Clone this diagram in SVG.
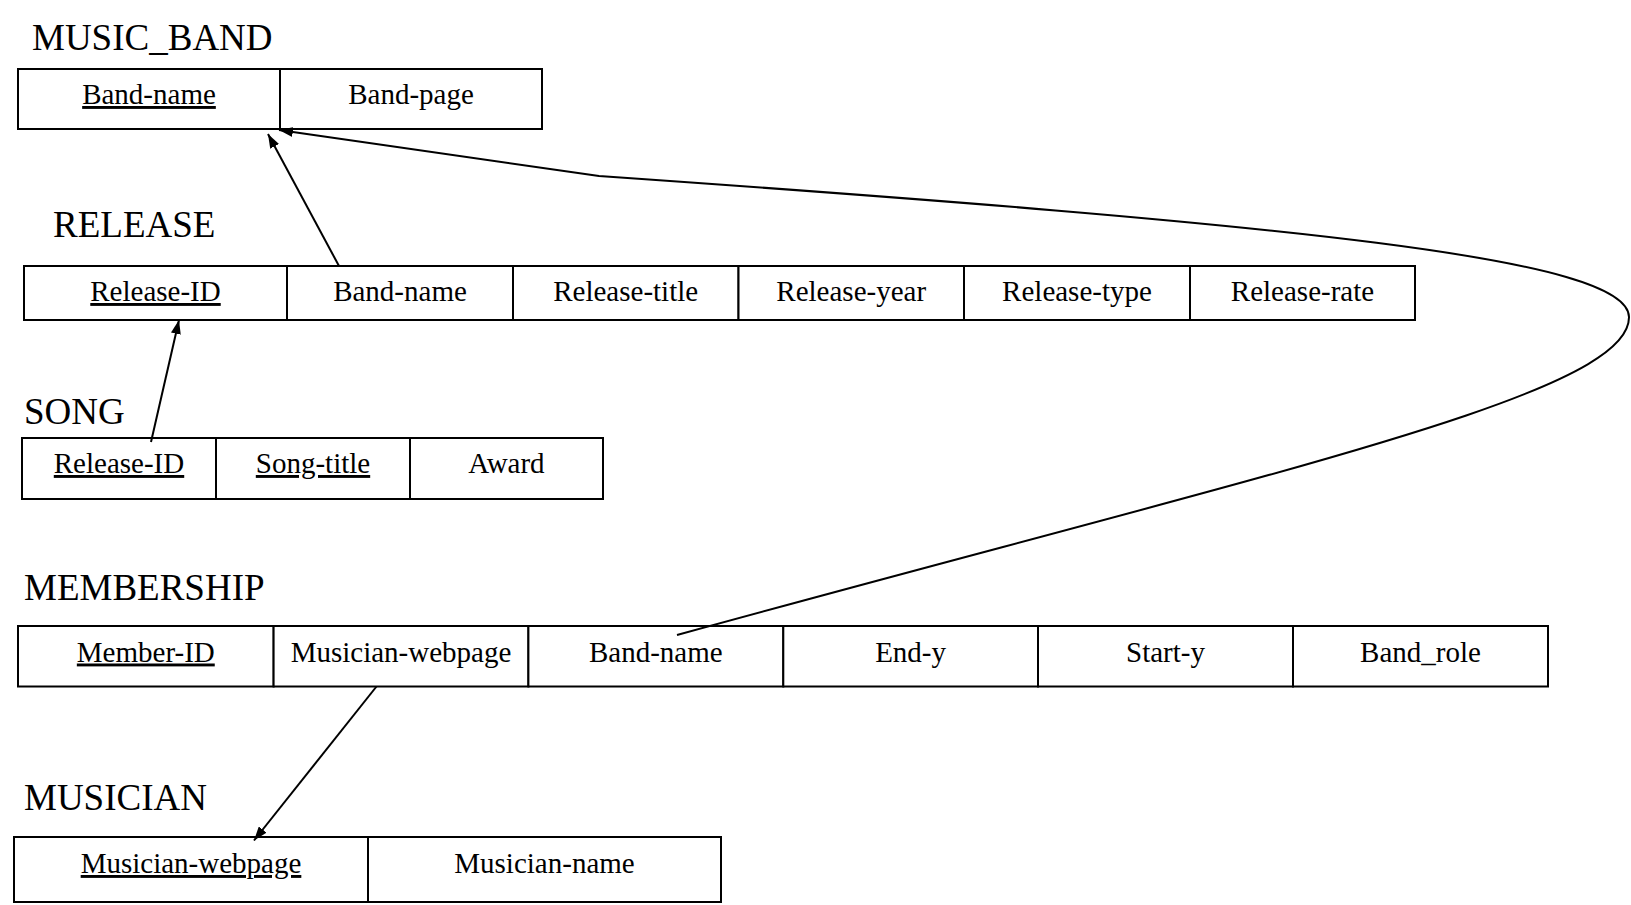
<svg xmlns="http://www.w3.org/2000/svg" width="1631" height="905" viewBox="0 0 1631 905">
<defs>
<style>
.lbl{font-family:"Liberation Serif","Times New Roman",serif;font-size:37px;fill:#000}
.cell{fill:#fff;stroke:#000;stroke-width:2}
.t{font-family:"Liberation Serif","Times New Roman",serif;font-size:29px;fill:#000;text-anchor:middle}
.k{text-decoration:underline}
.c{fill:none;stroke:#000;stroke-width:2}
</style>
<marker id="ah" viewBox="0 0 14 10" refX="14" refY="5" markerWidth="14" markerHeight="10" markerUnits="userSpaceOnUse" orient="auto">
<path d="M0,0 L14,5 L0,10 Z" fill="#000"/>
</marker>
</defs>
<rect width="1631" height="905" fill="#fff"/>
<g id="music_band">
<text class="lbl" x="32" y="50">MUSIC_BAND</text>
<rect class="cell" x="18" y="69" width="262" height="60"/>
<rect class="cell" x="280" y="69" width="262" height="60"/>
<text class="t k" x="149" y="104">Band-name</text>
<text class="t" x="411" y="104">Band-page</text>
</g>
<g id="release">
<text class="lbl" x="53" y="237">RELEASE</text>
<rect class="cell" x="24" y="266" width="263" height="54"/>
<rect class="cell" x="287" y="266" width="226" height="54"/>
<rect class="cell" x="513" y="266" width="225.5" height="54"/>
<rect class="cell" x="738.5" y="266" width="225.5" height="54"/>
<rect class="cell" x="964" y="266" width="226" height="54"/>
<rect class="cell" x="1190" y="266" width="225" height="54"/>
<text class="t k" x="155.5" y="301">Release-ID</text>
<text class="t" x="400" y="301">Band-name</text>
<text class="t" x="625.7" y="301">Release-title</text>
<text class="t" x="851.2" y="301">Release-year</text>
<text class="t" x="1077" y="301">Release-type</text>
<text class="t" x="1302.5" y="301">Release-rate</text>
</g>
<g id="song">
<text class="lbl" x="24" y="424">SONG</text>
<rect class="cell" x="22" y="438" width="194" height="61"/>
<rect class="cell" x="216" y="438" width="194" height="61"/>
<rect class="cell" x="410" y="438" width="193" height="61"/>
<text class="t k" x="119" y="473">Release-ID</text>
<text class="t k" x="313" y="473">Song-title</text>
<text class="t" x="506.5" y="473">Award</text>
</g>
<g id="membership">
<text class="lbl" x="24" y="600">MEMBERSHIP</text>
<rect class="cell" x="18" y="626" width="255.6" height="60.5"/>
<rect class="cell" x="273.6" y="626" width="254.8" height="60.5"/>
<rect class="cell" x="528.4" y="626" width="254.9" height="60.5"/>
<rect class="cell" x="783.3" y="626" width="254.7" height="60.5"/>
<rect class="cell" x="1038" y="626" width="255" height="60.5"/>
<rect class="cell" x="1293" y="626" width="255" height="60.5"/>
<text class="t k" x="145.8" y="661.5">Member-ID</text>
<text class="t" x="401" y="661.5">Musician-webpage</text>
<text class="t" x="655.8" y="661.5">Band-name</text>
<text class="t" x="910.6" y="661.5">End-y</text>
<text class="t" x="1165.5" y="661.5">Start-y</text>
<text class="t" x="1420.5" y="661.5">Band_role</text>
</g>
<g id="musician">
<text class="lbl" x="24" y="810">MUSICIAN</text>
<rect class="cell" x="14" y="837" width="354" height="65"/>
<rect class="cell" x="368" y="837" width="353" height="65"/>
<text class="t k" x="191" y="873">Musician-webpage</text>
<text class="t" x="544.5" y="873">Musician-name</text>
</g>
<g id="connectors">
<line class="c" x1="339" y1="266" x2="268" y2="134" marker-end="url(#ah)"/>
<line class="c" x1="151" y1="442" x2="179" y2="320" marker-end="url(#ah)"/>
<line class="c" x1="376.5" y1="686.5" x2="254" y2="840.5" marker-end="url(#ah)"/>
<path class="c" d="M677,635 C1277,470 1630,395 1629,317 C1628,258 1300,225 599,176 L279,130" marker-end="url(#ah)"/>
</g>
</svg>
